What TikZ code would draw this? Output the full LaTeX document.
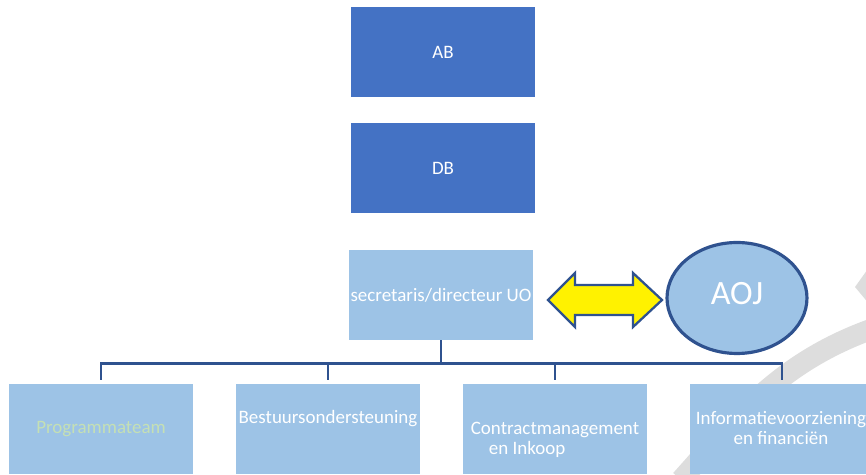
\documentclass[tikz,border=0pt]{standalone}
\usepackage{fontspec}
\setmainfont{Carlito}
\usepackage{tikz}
\usetikzlibrary{shapes.geometric,calc}
\definecolor{boxdark}{HTML}{4472C4}
\definecolor{boxlight}{HTML}{9DC3E6}
\definecolor{linkblue}{HTML}{2F528F}
\definecolor{greentext}{HTML}{C5E0B4}
\definecolor{watermark}{HTML}{DDDDDD}
\tikzstyle{boardbox}=[fill=boxdark,text=white,minimum width=3.68cm,minimum height=1.8cm,inner sep=0pt,font=\fontsize{10.8}{11.3}\selectfont]
\tikzstyle{unitbox}=[boardbox,fill=boxlight]
\tikzstyle{boxtext}=[text=white,inner sep=0pt,font=\fontsize{10.8}{11.3}\selectfont]
\tikzstyle{orgline}=[linkblue,line width=1.5pt]

\begin{document}
\begin{tikzpicture}[x=0.02cm,y=-0.02cm]
  \useasboundingbox (0,0) rectangle (866,475);
  \clip (0,0) rectangle (866,475);

  % watermark pieces in the background
  \draw[watermark,line width=0.42cm] (681,480) .. controls (735,420) and (778,362) .. (875,328);
  \fill[watermark] (855,287) -- (870,266) -- (870,305) -- cycle;

  % board and management
  \node[boardbox] (ab) at (443,52) {AB};
  \node[boardbox] (db) at (443,168) {DB};
  \node[unitbox] (sec) at (441,295) {secretaris/directeur UO};

  \node[ellipse,draw=linkblue,line width=1.8pt,fill=boxlight,minimum width=2.8cm,minimum height=2.22cm,
        inner sep=0pt,text=white,font=\fontsize{19.4}{20}\selectfont] (aoj) at (737,298) {\raisebox{0.2cm}{AOJ}};

  \draw[linkblue,line width=1.3pt,fill=yellow] % double arrow
    (548,300) -- (575,273) -- (575,285) -- (633,285) -- (633,273) -- (662,300) --
    (633,327) -- (633,315) -- (575,315) -- (575,327) -- cycle;

  % units
  \node[unitbox,text=greentext] (prog) at (101,429) {Programmateam};
  \node[unitbox] (best) at (328,429) {};
  \node[unitbox] (contract) at (555,429) {};
  \node[unitbox] (info) at (782,429) {};
  \node[boxtext] (besttxt) at (328,419) {Bestuursondersteuning};
  \node[boxtext,align=left] (contracttxt) at (555,440) {Contractmanagement\\\hspace*{0.36cm}en Inkoop};
  \node[boxtext,align=center] (infotxt) at (781,428) {Informatievoorziening\\en financiën};

  \coordinate (bar) at ($(sec.south)+(0,23)$);
  \draw[orgline] (sec.south) -- (bar);
  \foreach \unit in {prog,best,contract,info}{
    \draw[orgline,shorten >=0.08cm] (bar) -| (\unit.north);
  }

\end{tikzpicture}
\end{document}
